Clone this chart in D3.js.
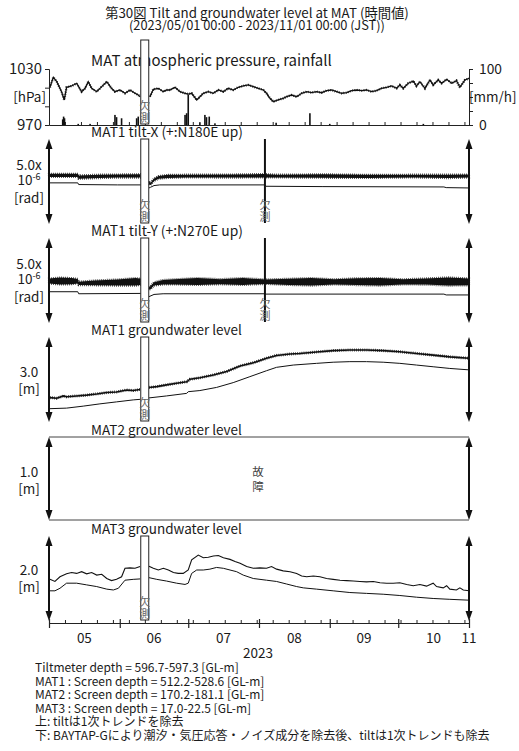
<!DOCTYPE html>
<html><head><meta charset="utf-8">
<script src="https://cdn.jsdelivr.net/npm/d3@7"></script>
<style>
body{margin:0;background:#fff}
text{font-family:"Noto Sans CJK JP","Noto Sans",sans-serif;fill:#1a1a1a}
</style></head><body>
<svg id="chart" width="519" height="751"></svg>
<script>
// ---------------- data (day offset from 2023-05-01 00:00 JST, value) ----------------
const titleLines = ["第30図 Tilt and groundwater level at MAT (時間値)", "(2023/05/01 00:00 - 2023/11/01 00:00 (JST))"];
const monthLabels = ["05","06","07","08","09","10","11"];
const yearLabel = "2023";
const gapDays = [40.2, 43.7];      // 欠測 period
const spikeDay = 94.6;             // tilt 欠測 mark

const pressure = [[0.4,1010.4],[1.9,1021.1],[3.4,1016.4],[5.5,1005.7],[6.7,996.8],[7.7,1010.4],[9.9,1011.8],[12.1,1014.7],[14.3,1005.7],[15.8,1009.3],[17.2,1016.4],[18.7,1009.3],[20.9,1005.7],[23.1,1011.1],[25.3,1016.4],[27.4,1009.3],[28.9,1005.7],[31.1,1007.5],[33.3,1004],[35.5,1007.5],[37.7,1004],[39.1,1002.1],[39.9,1000.3],[42,null],[44.2,1000.3],[45.7,1008.2],[47.9,1009.3],[50.1,1005.7],[51.5,1007.5],[53,1007.5],[55.2,1010.4],[57.4,1005.7],[59.6,1004],[61,1003.2],[62.5,1004],[64.7,996.8],[66.1,1000.3],[67.6,1004],[69.8,1005.7],[72,1004],[74.2,1007.5],[76.4,1005.7],[78.5,1009.3],[80.7,1007.5],[82.9,1010.4],[85.1,1011.8],[87.3,1012.9],[89.5,1011.1],[91.7,1009.3],[93.9,1007.5],[95.3,1004],[96.8,998.6],[98.3,995],[100.4,996.8],[102.6,998.6],[104.1,1000.3],[106.3,1002.1],[108.5,1000.3],[110.7,1004],[112.9,1005.7],[115,1004.6],[117.2,1005.7],[119.4,1004.6],[121.6,1006.8],[123.8,1007.5],[126,1005.7],[128.2,1004],[130.4,1004.6],[132.6,1006.8],[134.8,1007.5],[137,1006.8],[139.1,1007.5],[141.3,1005.7],[143.5,1006.8],[145.7,1009.3],[147.9,1010.4],[150.1,1011.8],[152.3,1009.3],[153.7,1012.9],[155.2,1009.3],[157.4,1014.7],[159.6,1017.1],[161,1011.8],[162.5,1016.4],[164.7,1009.3],[166.9,1018.2],[168.3,1012.9],[170.5,1018.2],[172,1014.7],[174.2,1018.9],[176.4,1014.7],[178.5,1017.6],[180,1010.4],[182.2,1018.2],[184,1020]];

const rainfall = [[6.0,10],[6.4,15],[6.8,12],[12.8,2],[18,2],[28.9,18],[29.6,14],[31.8,12],[38.4,12],[39.1,15],[59.6,18],[60.3,21],[61,54],[66.1,5],[68.3,18],[69,14],[70.2,15],[72.7,3],[99.5,4],[114.3,21],[123,2],[164,2]];

// tilt (x10^-6 rad): [day, centre, half band width]
const tiltXRaw = [[0,2.86,0.09],[12.6,2.86,0.09],[13,2.76,0.1],[22,2.80,0.1],[30,2.82,0.09],[40.2,2.83,0.1],[42,null,0],[43.8,2.40,0.06],[44.5,2.36,0.06],[46,2.60,0.07],[48,2.74,0.08],[52,2.80,0.09],[60,2.82,0.08],[80,2.82,0.09],[94,2.84,0.1],[100,2.82,0.08],[120,2.82,0.1],[140,2.80,0.09],[160,2.82,0.08],[175,2.80,0.1],[184,2.82,0.09]];
const tiltXCorr = [[0,2.42],[12.6,2.42],[13,2.32],[30,2.30],[40.2,2.30],[42,null],[43.8,2.12],[44.5,2.16],[46,2.26],[48.5,2.30],[94.5,2.30],[95,2.22],[120,2.20],[173,2.18],[174,2.14],[184,2.12]];
const tiltYRaw = [[0,2.47,0.15],[5,2.47,0.2],[10,2.46,0.18],[12.6,2.46,0.13],[13,2.33,0.1],[20,2.36,0.14],[30,2.38,0.18],[38,2.42,0.22],[40.2,2.42,0.18],[42,null,0],[43.8,2.04,0.07],[44.5,2.08,0.09],[46,2.30,0.1],[50,2.40,0.13],[55,2.42,0.15],[65,2.44,0.2],[75,2.43,0.15],[85,2.44,0.2],[95,2.43,0.13],[105,2.42,0.18],[115,2.42,0.22],[125,2.42,0.15],[135,2.43,0.2],[145,2.42,0.22],[155,2.42,0.15],[165,2.44,0.18],[175,2.44,0.24],[184,2.42,0.2]];
const tiltYCorr = [[0,1.84],[12.6,1.84],[13,1.72],[40.2,1.74],[42,null],[43.8,1.55],[46,1.68],[50,1.72],[94.5,1.72],[95,1.70],[173,1.70],[174,1.65],[184,1.65]];

// groundwater (m)
const mat1Raw = [[0.4,0.86],[3.4,0.84],[6.3,0.92],[7.7,0.89],[12.1,0.92],[16.5,0.95],[20.9,0.99],[25.3,1.04],[29.6,1.06],[34,1.13],[36.9,1.11],[39.9,1.15],[42,null],[43.8,1.22],[47.2,1.25],[51.5,1.31],[55.9,1.37],[60.3,1.42],[61.8,1.51],[66.1,1.56],[72,1.66],[77.8,1.78],[83.7,1.98],[89.5,2.09],[95.3,2.25],[99.7,2.35],[105.6,2.40],[109.9,2.42],[117.2,2.47],[124.5,2.52],[131.8,2.54],[139.1,2.54],[146.4,2.52],[153.7,2.48],[161,2.42],[168.3,2.36],[175.6,2.30],[184,2.25]];
const mat1Corr = [[0.4,0.47],[7.7,0.49],[15,0.56],[22.3,0.64],[29.6,0.71],[36.9,0.78],[39.9,0.80],[42,null],[43.8,0.85],[51.5,0.92],[60.3,1.01],[61,1.07],[66.1,1.11],[73.4,1.22],[80.7,1.39],[88,1.60],[95.3,1.81],[99.7,1.93],[107,2.01],[117.2,2.07],[124.5,2.11],[131.8,2.13],[139.1,2.13],[146.4,2.11],[153.7,2.07],[161,2.01],[168.3,1.95],[175.6,1.89],[184,1.84]];
const mat3Raw = [[0.4,0.98],[2.6,0.93],[4.8,1.04],[7.7,1.11],[9.9,1.14],[12.1,1.12],[14.3,1.16],[16.5,1.11],[18.7,1.14],[20.9,1.08],[23.1,1.10],[25.3,1.00],[27.4,0.95],[29.6,0.98],[31.8,1.04],[33.3,1.24],[35.5,1.25],[37.7,1.24],[39.9,1.28],[42,null],[43.8,1.29],[45.7,1.24],[47.9,1.20],[50.1,1.24],[52.3,1.20],[54.5,1.14],[56.6,1.12],[58.8,1.12],[61,1.20],[62.5,1.44],[65.4,1.55],[67.6,1.49],[69.8,1.50],[72,1.53],[74.2,1.54],[76.4,1.49],[79.3,1.45],[81.5,1.40],[83.7,1.36],[86.6,1.28],[89.5,1.24],[92.4,1.25],[95.3,1.24],[97.5,1.28],[99.7,1.22],[102.6,1.18],[105.6,1.16],[108.5,1.12],[110.7,1.06],[112.9,1.04],[115.8,1.06],[118.7,1.04],[121.6,1.00],[124.5,0.98],[127.5,0.96],[130.4,0.95],[133.3,0.94],[136.2,0.93],[139.1,0.92],[142.1,0.93],[145,0.90],[147.9,0.89],[150.8,0.89],[153.7,0.90],[156.7,0.86],[159.6,0.83],[162.5,0.86],[165.4,0.82],[168.3,0.89],[169.8,0.81],[172.7,0.78],[174.2,0.83],[175.6,0.75],[178.5,0.73],[180,0.78],[181.5,0.73],[184,0.71]];
const mat3Corr = [[0.4,0.71],[2.6,0.71],[4.8,0.77],[7.7,0.89],[12.1,0.89],[16.5,0.85],[20.9,0.81],[25.3,0.75],[28.2,0.73],[30.4,0.77],[33.3,0.96],[36.9,0.98],[39.9,0.99],[42,null],[43.8,1.02],[47.2,0.98],[51.5,0.94],[55.9,0.89],[59.6,0.86],[61,0.89],[62.5,1.12],[64.7,1.20],[67.6,1.20],[70.5,1.22],[73.4,1.26],[76.4,1.24],[79.3,1.20],[82.2,1.16],[85.1,1.08],[89.5,1.00],[95.3,0.96],[99.7,0.93],[104.1,0.87],[108.5,0.81],[111.4,0.78],[117.2,0.75],[124.5,0.71],[131.8,0.67],[139.1,0.65],[146.4,0.63],[153.7,0.60],[161,0.56],[168.3,0.53],[175.6,0.51],[184,0.49]];

const panelTitles = ["MAT atmospheric pressure, rainfall","MAT1 tilt-X (+:N180E up)","MAT1 tilt-Y (+:N270E up)","MAT1 groundwater level","MAT2 groundwater level","MAT3 groundwater level"];
const footnotes = ["Tiltmeter depth = 596.7-597.3 [GL-m]","MAT1 : Screen depth = 512.2-528.6 [GL-m]","MAT2 : Screen depth = 170.2-181.1 [GL-m]","MAT3 : Screen depth = 17.0-22.5 [GL-m]","上: tiltは1次トレンドを除去","下: BAYTAP-Gにより潮汐・気圧応答・ノイズ成分を除去後、tiltは1次トレンドも除去"];

// ---------------- drawing ----------------
const svg = d3.select("#chart");
svg.append("rect").attr("width",519).attr("height",751).attr("fill","#fff");
const T0 = new Date(2023,4,1), T1 = new Date(2023,10,1);
const toDate = d => new Date(T0.getTime() + d*86400000);
const x = d3.scaleTime().domain([T0,T1]).range([49,469]);
const L = 49, R = 469;
const INK = "#111";

// scale a text so that its rendered width matches the reference width
function fit(sel, w){
  const n = sel.node(); const cur = n.getComputedTextLength();
  const fs = parseFloat(sel.attr("font-size"));
  if(cur>0) sel.attr("font-size", fs*w/cur);
  return sel;
}

// title
fit(svg.append("text").attr("x",257).attr("y",18).attr("text-anchor","middle").attr("font-size",12).text(titleLines[0]),304);
fit(svg.append("text").attr("x",257).attr("y",30).attr("text-anchor","middle").attr("font-size",12).text(titleLines[1]),256);

// panel geometry
const panels = [
  {top:40,  bottom:125},
  {top:139, bottom:224},
  {top:238, bottom:323},
  {top:337, bottom:422},
  {top:437, bottom:520},
  {top:536, bottom:621}
];
const titleY = [66, 137, 236, 335, 435, 534];
const titleW = [241, 152, 152, 151, 151, 151];
panelTitles.forEach((t,i)=>{
  fit(svg.append("text").attr("x",91).attr("y",titleY[i]).attr("font-size",12.5).text(t), titleW[i]);
});

function lineGen(ys){
  return d3.line().defined(d=>d[1]!==null).x(d=>x(toDate(d[0]))).y(d=>ys(d[1]));
}
function bandGen(ys){
  return d3.area().defined(d=>d[1]!==null).x(d=>x(toDate(d[0])))
    .y0(d=>ys(d[1]-d[2])).y1(d=>ys(d[1]+d[2]));
}
function arrow(g,xx,top,bottom){
  g.append("line").attr("x1",xx).attr("x2",xx).attr("y1",top+4).attr("y2",bottom-4)
    .attr("stroke",INK).attr("stroke-width",2);
  g.append("path").attr("d",`M${xx},${top}L${xx-3.5},${top+10}L${xx+3.5},${top+10}Z`).attr("fill",INK);
  g.append("path").attr("d",`M${xx},${bottom}L${xx-3.5},${bottom-10}L${xx+3.5},${bottom-10}Z`).attr("fill",INK);
}
function vtext(g,cx,bottom,chars,color){
  chars.forEach((c,i)=>g.append("text").attr("x",cx).attr("y",bottom-15+i*12)
    .attr("text-anchor","middle").attr("font-size",11).style("fill",color).text(c));
}
function gapRect(g,p){
  const x0 = x(toDate(gapDays[0])), x1 = x(toDate(gapDays[1]));
  g.append("rect").attr("x",x0).attr("y",p.top).attr("width",x1-x0).attr("height",p.bottom-p.top-1)
    .attr("fill","#fff").attr("stroke","#222").attr("stroke-width",1);
  vtext(g,(x0+x1)/2,p.bottom,["欠","測"],"#666");
}
function weekAxis(g,yy,withMonths){
  const mondays = d3.timeMonday.range(T0,T1);
  g.append("g").attr("transform",`translate(0,${yy})`)
    .call(d3.axisTop(x).tickValues(mondays).tickSize(3).tickSizeOuter(0).tickFormat(""))
    .call(s=>s.selectAll("line").attr("stroke","#222"))
    .call(s=>s.select(".domain").attr("stroke","#222"));
  if(withMonths){
    const months = d3.timeMonth.range(T0,T1).concat([T1]);
    g.append("g").attr("transform",`translate(0,${yy})`)
      .call(d3.axisBottom(x).tickValues(months).tickSize(5).tickSizeOuter(0).tickFormat(""))
      .call(s=>s.select(".domain").remove())
      .call(s=>s.selectAll("line").attr("stroke","#222").attr("stroke-width",1.2));
    g.append("g").attr("transform",`translate(0,${yy})`)
      .call(d3.axisTop(x).tickValues(months).tickSize(4).tickSizeOuter(0).tickFormat(""))
      .call(s=>s.select(".domain").remove())
      .call(s=>s.selectAll("line").attr("stroke","#222").attr("stroke-width",1.2));
  }
}
const AX = 13.5; // axis label font size

// ---- panel 0: pressure & rainfall
{
  const p = panels[0], g = svg.append("g");
  const yP = d3.scaleLinear().domain([970,1030]).range([125,69]);
  const yR = d3.scaleLinear().domain([0,100]).range([125,69]);
  g.append("path").datum(pressure).attr("d",lineGen(yP)).attr("fill","none").attr("stroke",INK).attr("stroke-width",1.3);
  g.append("path").datum(pressure).attr("d",lineGen(yP)).attr("fill","none").attr("stroke",INK)
    .attr("stroke-width",2.4).attr("stroke-dasharray","0.7 1.6");
  g.selectAll("rect.rain").data(rainfall).join("rect")
    .attr("x",d=>x(toDate(d[0]))-0.8).attr("width",1.6)
    .attr("y",d=>yR(d[1])).attr("height",d=>yR(0)-yR(d[1])).attr("fill",INK);
  g.append("g").attr("transform",`translate(${L},0)`)
    .call(d3.axisLeft(yP).tickValues([970,990,1010,1030]).tickSize(4).tickFormat(""))
    .call(s=>s.selectAll("path,line").attr("stroke","#222"));
  g.append("g").attr("transform",`translate(${R},0)`)
    .call(d3.axisRight(yR).tickValues([0,25,50,75,100]).tickSize(4).tickFormat(""))
    .call(s=>s.selectAll("path,line").attr("stroke","#222"));
  weekAxis(g,125,false);
  fit(g.append("text").attr("x",42).attr("y",74).attr("text-anchor","end").attr("font-size",AX).text("1030"),33);
  g.append("text").attr("x",46).attr("y",102).attr("text-anchor","end").attr("font-size",AX).text("[hPa]");
  fit(g.append("text").attr("x",42).attr("y",130).attr("text-anchor","end").attr("font-size",AX).text("970"),25);
  fit(g.append("text").attr("x",479).attr("y",74).attr("font-size",AX).text("100"),23);
  g.append("text").attr("x",469).attr("y",102).attr("font-size",AX).text("[mm/h]");
  g.append("text").attr("x",479).attr("y",130).attr("font-size",14).text("0");
  gapRect(g,p);
}
// ---- tilt panels
function scaleLabels(g,lines,ys){
  lines.forEach((t,i)=>{
    const tx = g.append("text").attr("x",29).attr("y",ys[i]).attr("text-anchor","middle").attr("font-size",AX);
    if(Array.isArray(t)){ tx.text(t[0]); tx.append("tspan").attr("dy",-5).attr("font-size",9).text(t[1]); }
    else tx.text(t);
  });
}
[[1,tiltXRaw,tiltXCorr],[2,tiltYRaw,tiltYCorr]].forEach(([pi,raw,corr])=>{
  const p = panels[pi], g = svg.append("g");
  const y = d3.scaleLinear().domain([0,5]).range([p.bottom,p.top]);
  g.append("path").datum(corr).attr("d",lineGen(y)).attr("fill","none").attr("stroke",INK).attr("stroke-width",1);
  g.append("path").datum(raw).attr("d",bandGen(y)).attr("fill",INK).attr("stroke","none");
  // fuzzy (hourly-noise) edge of the band
  g.append("path").datum(raw).attr("d",bandGen(y)).attr("fill","none").attr("stroke",INK)
    .attr("stroke-width",2.2).attr("stroke-dasharray","0.7 1.3");
  const sx = x(toDate(spikeDay));
  g.append("line").attr("x1",sx).attr("x2",sx).attr("y1",p.top).attr("y2",p.bottom-1).attr("stroke",INK).attr("stroke-width",2);
  vtext(g,sx,p.bottom,["欠","測"],"#666");
  arrow(g,L,p.top,p.bottom); arrow(g,R,p.top,p.bottom);
  gapRect(g,p);
  scaleLabels(g,["5.0x",["10","-6"],"[rad]"],[p.top+31,p.top+46,p.top+64]);
});
// ---- MAT1
{
  const p = panels[3], g = svg.append("g");
  const y = d3.scaleLinear().domain([0,3]).range([p.bottom,p.top]);
  g.append("path").datum(mat1Corr).attr("d",lineGen(y)).attr("fill","none").attr("stroke",INK).attr("stroke-width",1);
  g.append("path").datum(mat1Raw).attr("d",lineGen(y)).attr("fill","none").attr("stroke",INK).attr("stroke-width",1.6);
  g.append("path").datum(mat1Raw).attr("d",lineGen(y)).attr("fill","none").attr("stroke",INK)
    .attr("stroke-width",3).attr("stroke-dasharray","0.7 1.4");
  arrow(g,L,p.top,p.bottom); arrow(g,R,p.top,p.bottom);
  gapRect(g,p);
  scaleLabels(g,["3.0","[m]"],[p.top+40,p.top+57]);
}
// ---- MAT2 (故障)
{
  const p = panels[4], g = svg.append("g");
  arrow(g,L,p.top,p.bottom); arrow(g,R,p.top,p.bottom);
  g.append("line").attr("x1",L).attr("x2",R).attr("y1",p.top).attr("y2",p.top).attr("stroke","#444");
  g.append("line").attr("x1",L).attr("x2",R).attr("y1",p.bottom).attr("y2",p.bottom).attr("stroke","#444");
  ["故","障"].forEach((c,i)=>g.append("text").attr("x",258).attr("y",476+i*15)
    .attr("text-anchor","middle").attr("font-size",11.5).style("fill","#444").text(c));
  scaleLabels(g,["1.0","[m]"],[p.top+40,p.top+57]);
}
// ---- MAT3
{
  const p = panels[5], g = svg.append("g");
  const y = d3.scaleLinear().domain([0,2]).range([p.bottom,p.top]);
  g.append("path").datum(mat3Corr).attr("d",lineGen(y)).attr("fill","none").attr("stroke",INK).attr("stroke-width",1);
  g.append("path").datum(mat3Raw).attr("d",lineGen(y)).attr("fill","none").attr("stroke",INK).attr("stroke-width",1.1);
  arrow(g,L,p.top,p.bottom); arrow(g,R,p.top,p.bottom);
  gapRect(g,p);
  scaleLabels(g,["2.0","[m]"],[p.top+39,p.top+56]);
  weekAxis(g,623,true);
  const months = d3.timeMonth.range(T0,T1);
  monthLabels.forEach((m,i)=>{
    const xx = i<months.length ? (x(months[i]) + x(d3.timeMonth.offset(months[i],1)))/2 : x(T1);
    g.append("text").attr("x",xx).attr("y",643).attr("text-anchor","middle").attr("font-size",AX).text(m);
  });
  g.append("text").attr("x",258).attr("y",658).attr("text-anchor","middle").attr("font-size",AX).text(yearLabel);
}
// footnotes
footnotes.forEach((t,i)=>{
  svg.append("text").attr("x",35).attr("y",672+i*13.6).attr("font-size",12).text(t);
});
</script>
</body></html>
